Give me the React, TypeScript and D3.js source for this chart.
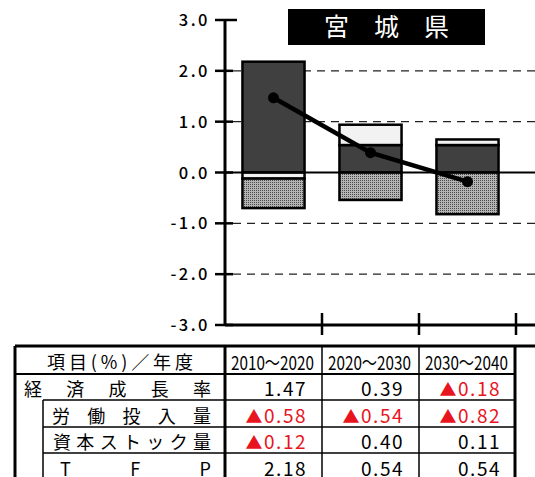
import * as d3 from 'd3'

const categories = ['2010～2020', '2020～2030', '2030～2040']
const growth = [1.47, 0.39, -0.18]
const labor = [-0.58, -0.54, -0.82]
const capital = [-0.12, 0.4, 0.11]
const tfp = [2.18, 0.54, 0.54]
const yTicks = [3, 2, 1, 0, -1, -2, -3]
const rowLabels = ['経済成長率', '労働投入量', '資本ストック量', 'TFP']
const headerLabel = '項目(%)／年度'
const title = '宮　城　県'

const W = 535, H = 477
const FONT = '"Noto Sans CJK JP", "Noto Sans", sans-serif'
const M = { top: 20, left: 225, right: 516, bottom: 325 }

const x = d3.scaleBand<string>().domain(categories).range([M.left, M.right]).paddingInner(0.36).paddingOuter(0.18)
const y = d3.scaleLinear().domain([-3, 3]).range([M.bottom, M.top])

const keys = ['tfp', 'capital', 'labor'] as const
const rows = categories.map((c, i) => ({ cat: c, tfp: tfp[i], capital: capital[i], labor: labor[i] }))
const stacked = d3.stack<any>().keys(keys as any).offset(d3.stackOffsetDiverging)(rows)
const fills: Record<string, string> = { tfp: '#404040', capital: '#f2f2f2', labor: 'url(#dots)' }

const line = d3.line<number>()
  .x((_, i) => x(categories[i])! + x.bandwidth() / 2)
  .y(d => y(d))

// table geometry
const TX0 = 15, TX1 = 535, TLabel = 225
const colEdges = [TLabel, x.step() + M.left, x.step() * 2 + M.left, M.right]
const rowEdges = [346, 374, 400, 427, 453, 480]
const series = [growth, labor, capital, tfp]
const labelSpan = [[24, 211], [52, 211], [53, 211], [60, 211]]

const fmt = (v: number) => (v < 0 ? ['▲', Math.abs(v).toFixed(2)] : ['', v.toFixed(2)])

export default function App() {
  const x0 = y(0)
  return (
    <div style={{ position: 'fixed', left: 0, top: 0 }}>
      <svg width={W} height={H} viewBox={`0 0 ${W} ${H}`} style={{ display: 'block', background: '#fff' }}>
        <defs>
          <pattern id="dots" width="2" height="2" patternUnits="userSpaceOnUse">
            <rect width="2" height="2" fill="#b4b4b4" />
            <rect width="1" height="1" fill="#4a4a4a" />
          </pattern>
        </defs>

        {/* title */}
        <rect x={288} y={9} width={197} height={36} fill="#000" />
        <text x={386.5} y={36} textAnchor="middle" fill="#fff" fontFamily={FONT} fontSize={25}>{title}</text>

        {/* dashed grid */}
        {yTicks.filter(t => t !== 0 && Math.abs(t) !== 3).map(t => (
          <line key={t} x1={M.left + 8} x2={W} y1={y(t)} y2={y(t)} stroke="#222" strokeWidth={1.4} strokeDasharray="8 6" />
        ))}

        {/* bars */}
        {stacked.map(s => s.map((d, i) => (
          d[0] === d[1] ? null :
          <rect key={s.key + i} x={x(categories[i])} width={x.bandwidth()}
            y={y(Math.max(d[0], d[1]))} height={Math.abs(y(d[0]) - y(d[1]))}
            fill={fills[s.key]} stroke="#000" strokeWidth={2.5} />
        )))}

        {/* zero line */}
        <line x1={M.left} x2={W} y1={x0} y2={x0} stroke="#000" strokeWidth={2.2} />

        {/* growth line */}
        <path d={line(growth)!} fill="none" stroke="#000" strokeWidth={4.5} />
        {growth.map((g, i) => (
          <circle key={i} cx={x(categories[i])! + x.bandwidth() / 2} cy={y(g)} r={5.5} fill="#000" />
        ))}

        {/* y axis */}
        <line x1={M.left} x2={M.left} y1={y(3)} y2={y(-3)} stroke="#000" strokeWidth={3} />
        {yTicks.map(t => (
          <g key={t}>
            <line x1={M.left - 10} x2={M.left + (t === 3 ? 12 : 8)} y1={y(t)} y2={y(t)} stroke="#000" strokeWidth={2.5} />
            <text x={210} y={y(t) + 6} textAnchor="end" fontFamily={FONT} fontSize={16.5} fontWeight={500}
              letterSpacing={2.5} fill="#000">
              {d3.format('.1f')(t).replace('−', '-')}
            </text>
          </g>
        ))}

        {/* bottom axis */}
        <line x1={M.left} x2={W} y1={y(-3)} y2={y(-3)} stroke="#000" strokeWidth={3} />
        {colEdges.slice(1).map((cx, i) => (
          <line key={i} x1={cx} x2={cx} y1={y(-3) - 12} y2={y(-3) + 10} stroke="#000" strokeWidth={2.5} />
        ))}

        {/* table */}
        <line x1={TX0} x2={TX1} y1={rowEdges[0]} y2={rowEdges[0]} stroke="#000" strokeWidth={3} />
        <line x1={TX0} x2={TX0} y1={rowEdges[0]} y2={H} stroke="#000" strokeWidth={3} />
        <line x1={TX0} x2={M.right} y1={rowEdges[1]} y2={rowEdges[1]} stroke="#000" strokeWidth={2} />
        {rowEdges.slice(2, 5).map((ry, i) => (
          <line key={i} x1={43} x2={M.right} y1={ry} y2={ry} stroke="#000" strokeWidth={1.5} />
        ))}
        <line x1={43} x2={43} y1={rowEdges[2]} y2={H} stroke="#000" strokeWidth={1.5} />
        <line x1={TLabel} x2={TLabel} y1={rowEdges[0]} y2={H} stroke="#000" strokeWidth={3} />
        {colEdges.slice(1, 3).map((cx, i) => (
          <line key={i} x1={cx} x2={cx} y1={rowEdges[0]} y2={H} stroke="#000" strokeWidth={1.5} />
        ))}
        <line x1={M.right - 1} x2={M.right - 1} y1={rowEdges[0]} y2={H} stroke="#000" strokeWidth={3} />

        <text x={47} y={369} fontFamily={FONT} fontSize={18} textLength={146} lengthAdjust="spacing" fill="#000">{headerLabel}</text>
        {categories.map((c, i) => (
          <text key={c} x={colEdges[i] + 6} y={370} fontFamily={FONT} fontSize={19}
            textLength={83} lengthAdjust="spacingAndGlyphs" fill="#000">{c}</text>
        ))}

        {rowLabels.map((l, r) => (
          <text key={l} x={labelSpan[r][0]} y={rowEdges[r + 2] - 4} fontFamily={FONT} fontSize={18}
            textLength={labelSpan[r][1] - labelSpan[r][0]} lengthAdjust="spacing" fill="#000">{l}</text>
        ))}

        {series.map((vals, r) => vals.map((v, i) => {
          const [mark, num] = fmt(v)
          return (
            <text key={`${r}-${i}`} x={colEdges[i + 1] - 15} y={rowEdges[r + 2] - 4} textAnchor="end"
              fontFamily={FONT} fontSize={19} letterSpacing={1.5} fill={v < 0 ? '#e8141e' : '#000'}>
              {mark && <tspan fontSize={17}>{mark}</tspan>}{num}
            </text>
          )
        }))}
      </svg>
    </div>
  )
}
